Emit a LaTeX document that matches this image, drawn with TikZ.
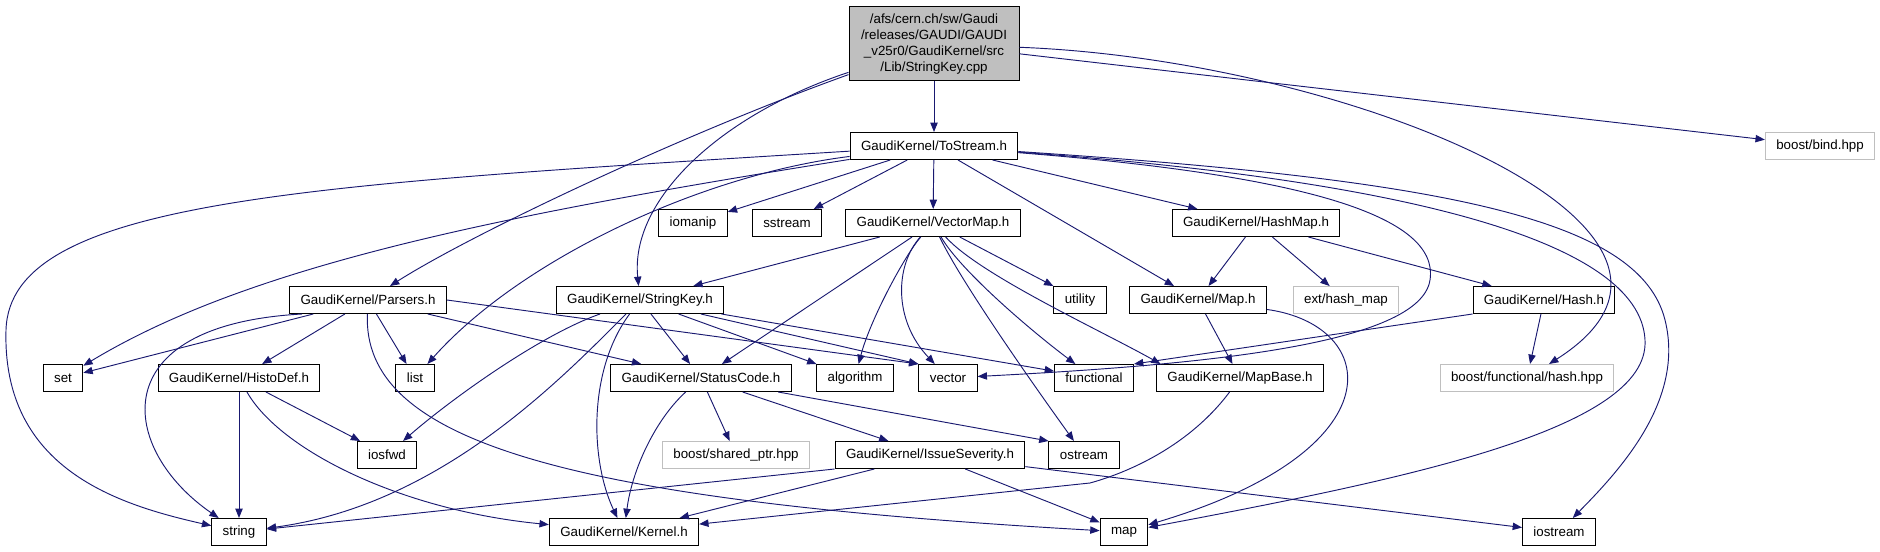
\documentclass[tikz,border=0pt]{standalone}
\usepackage{fontspec}
\setmainfont{Liberation Sans}
\usepackage{tikz}
\usetikzlibrary{arrows.meta}
\definecolor{edgeblue}{RGB}{25,25,112}
\definecolor{boxgray}{RGB}{191,191,191}
\tikzstyle{header} = [rectangle, draw=black, line width=0.75pt, fill=white,
  inner xsep=8.2pt, inner ysep=2pt, minimum height=20.25pt,
  font=\fontsize{10}{12}\selectfont]
\tikzstyle{sysheader} = [header, draw=boxgray]
\tikzstyle{mainfile} = [header, fill=boxgray, align=center,
  minimum width=127.5pt, minimum height=55.5pt]
\tikzstyle{include} = [-{Triangle[length=7pt,width=5.5pt]}, line width=0.7pt, draw=edgeblue]

\begin{document}
\begin{tikzpicture}[x=0.75pt, y=-0.75pt]
        \useasboundingbox (0,0) rectangle (1880,552);
        % Rank 0 -----------------------------------------------------------------------------------
        \node[mainfile](string_key_cpp) at (934,44){/afs/cern.ch/sw/Gaudi\\/releases/GAUDI/GAUDI\\\_v25r0/GaudiKernel/src\\/Lib/StringKey.cpp};
        % Rank 1 -----------------------------------------------------------------------------------
        \node[header](to_stream) at (934,146){GaudiKernel/ToStream.h};
        \node[sysheader](bind) at (1820,146){boost/bind.hpp};
        % Rank 2 -----------------------------------------------------------------------------------
        \node[header](iomanip) at (693,223){iomanip};
        \node[header](sstream) at (787,223){sstream};
        \node[header](vector_map) at (933,223){GaudiKernel/VectorMap.h};
        \node[header](hash_map) at (1256,223){GaudiKernel/HashMap.h};
        % Rank 3 -----------------------------------------------------------------------------------
        \node[header](parsers) at (368,300){GaudiKernel/Parsers.h};
        \node[header](string_key) at (640,300){GaudiKernel/StringKey.h};
        \node[header](utility) at (1080,300){utility};
        \node[header](map_h) at (1198,300){GaudiKernel/Map.h};
        \node[sysheader](hash_ext) at (1346,300){ext/hash\_map};
        \node[header](hash_h) at (1544,300){GaudiKernel/Hash.h};
        % Rank 4 -----------------------------------------------------------------------------------
        \node[header](set) at (63,378){set};
        \node[header](histo_def) at (239,378){GaudiKernel/HistoDef.h};
        \node[header](list) at (415,378){list};
        \node[header](status_code) at (701,378){GaudiKernel/StatusCode.h};
        \node[header](algorithm) at (855,378){algorithm};
        \node[header](vector) at (948,378){vector};
        \node[header](functional) at (1094,378){functional};
        \node[header](map_base) at (1240,378){GaudiKernel/MapBase.h};
        \node[sysheader](hash_hpp) at (1527,378){boost/functional/hash.hpp};
        % Rank 5 -----------------------------------------------------------------------------------
        \node[header](iosfwd) at (387,455){iosfwd};
        \node[sysheader](shared_ptr) at (736,455){boost/shared\_ptr.hpp};
        \node[header](issue_severity) at (930,455){GaudiKernel/IssueSeverity.h};
        \node[header](ostream) at (1084,455){ostream};
        % Rank 6 -----------------------------------------------------------------------------------
        \node[header](string) at (239,532){string};
        \node[header](kernel) at (624,532){GaudiKernel/Kernel.h};
        \node[header](map) at (1124,532){map};
        \node[header](iostream) at (1559,532){iostream};
        % Arrows: StringKey.cpp --------------------------------------------------------------------
        \draw[include] (string_key_cpp) -- (to_stream);
        \draw[include] (string_key_cpp) .. controls (680,135) and (470,235) .. (parsers);
        \draw[include] (string_key_cpp) .. controls (720,115) and (630,200) .. (string_key);
        \draw[include] (string_key_cpp) -- (bind);
        \draw[include] (string_key_cpp) .. controls (1350,60) and (1760,230) .. (hash_hpp);
        % Arrows: ToStream.h -----------------------------------------------------------------------
        \draw[include] (to_stream) -- (iomanip);
        \draw[include] (to_stream) -- (sstream);
        \draw[include] (to_stream) -- (vector_map);
        \draw[include] (to_stream) -- (hash_map);
        \draw[include] (to_stream) -- (map_h);
        \draw[include] (to_stream) .. controls (300,185) and (10,200) .. (6,330) .. controls (2,470) and (120,505) .. (string);
        \draw[include] (to_stream) .. controls (500,215) and (250,265) .. (set);
        \draw[include] (to_stream) .. controls (700,175) and (520,260) .. (list);
        \draw[include] (to_stream) .. controls (1300,175) and (1440,215) .. (1430,280) .. controls (1420,345) and (1200,365) .. (vector);
        \draw[include] (to_stream) .. controls (1400,180) and (1640,240) .. (1645,340) .. controls (1650,430) and (1400,480) .. (map);
        \draw[include] (to_stream) .. controls (1450,180) and (1640,220) .. (1665,320) .. controls (1685,400) and (1620,470) .. (iostream);
        % Arrows: VectorMap.h ----------------------------------------------------------------------
        \draw[include] (vector_map) -- (string_key);
        \draw[include] (vector_map) -- (status_code);
        \draw[include] (vector_map) .. controls (905,255) and (870,320) .. (algorithm);
        \draw[include] (vector_map) .. controls (895,265) and (893,320) .. (vector);
        \draw[include] (vector_map) .. controls (960,280) and (1030,380) .. (ostream);
        \draw[include] (vector_map) .. controls (960,270) and (1030,330) .. (functional);
        \draw[include] (vector_map) .. controls (980,275) and (1100,330) .. (map_base.170);
        \draw[include] (vector_map) -- (utility);
        % Arrows: HashMap.h ------------------------------------------------------------------------
        \draw[include] (hash_map) -- (map_h);
        \draw[include] (hash_map) -- (hash_ext);
        \draw[include] (hash_map) -- (hash_h);
        % Arrows: Parsers.h ------------------------------------------------------------------------
        \draw[include] (parsers) -- (set);
        \draw[include] (parsers.192) .. controls (100,325) and (120,450) .. (string);
        \draw[include] (parsers) -- (histo_def);
        \draw[include] (parsers) -- (list);
        \draw[include] (parsers) -- (status_code);
        \draw[include] (parsers.east) -- (vector.north west);
        \draw[include] (parsers) .. controls (362,440) and (560,500) .. (map);
        % Arrows: StringKey.h ----------------------------------------------------------------------
        \draw[include] (string_key) .. controls (540,335) and (450,400) .. (iosfwd);
        \draw[include] (string_key) .. controls (560,380) and (440,505) .. (string);
        \draw[include] (string_key) .. controls (588,370) and (590,460) .. (kernel);
        \draw[include] (string_key) -- (status_code);
        \draw[include] (string_key) -- (algorithm);
        \draw[include] (string_key) -- (vector.north west);
        \draw[include] (string_key) -- (functional);
        % Arrows: Map.h, Hash.h, MapBase.h ---------------------------------------------------------
        \draw[include] (map_h) -- (map_base);
        \draw[include] (map_h) .. controls (1380,325) and (1400,450) .. (map);
        \draw[include] (hash_h.south west) -- (functional.north east);
        \draw[include] (hash_h) -- (hash_hpp);
        \draw[include] (map_base) .. controls (1190,445) and (1130,472) .. (1090,483) -- (kernel);
        % Arrows: HistoDef.h -----------------------------------------------------------------------
        \draw[include] (histo_def) -- (string);
        \draw[include] (histo_def) -- (iosfwd);
        \draw[include] (histo_def) .. controls (280,450) and (400,510) .. (kernel);
        % Arrows: StatusCode.h ---------------------------------------------------------------------
        \draw[include] (status_code) .. controls (655,420) and (632,470) .. (kernel);
        \draw[include] (status_code) -- (shared_ptr);
        \draw[include] (status_code) -- (issue_severity);
        \draw[include] (status_code) -- (ostream.north west);
        % Arrows: IssueSeverity.h ------------------------------------------------------------------
        \draw[include] (issue_severity.south west) -- (string);
        \draw[include] (issue_severity) -- (kernel);
        \draw[include] (issue_severity) -- (map);
        \draw[include] (issue_severity) -- (iostream);
    \end{tikzpicture}
\end{document}
